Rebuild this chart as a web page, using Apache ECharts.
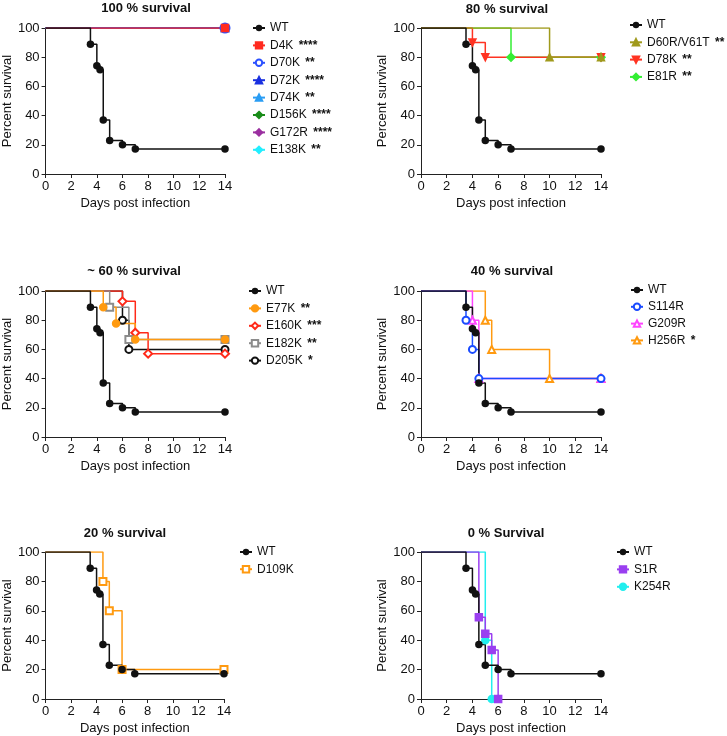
<!DOCTYPE html>
<html>
<head>
<meta charset="utf-8">
<script src="https://cdn.jsdelivr.net/npm/echarts@6/dist/echarts.min.js"></script>
<style>
  html, body { margin: 0; padding: 0; background: #fff; }
  #chart { width: 727px; height: 736px; }
</style>
</head>
<body>
<div id="chart"></div>
<script>
// Kaplan-Meier steps, [day, percent survival]
const WT = [[0, 100], [3.5, 88.9], [4, 74.1], [4.25, 71.4], [4.5, 37.0], [5, 22.9], [6, 20.0], [7, 17.1], [14, 17.1]]

// 100 % survival
const D4K = [[0, 100], [14, 100]]
const D70K = [[0, 100], [14, 100]]
const D72K = [[0, 100], [14, 100]]
const D74K = [[0, 100], [14, 100]]
const D156K = [[0, 100], [14, 100]]
const G172R = [[0, 100], [14, 100]]
const E138K = [[0, 100], [14, 100]]

// 80 % survival
const D60R_V61T = [[0, 100], [10, 80], [14, 80]]
const D78K = [[0, 100], [4, 90], [5, 80], [14, 80]]
const E81R = [[0, 100], [7, 80], [14, 80]]

// ~60 % survival
const E77K = [[0, 100], [4.5, 88.9], [5.5, 77.8], [7, 66.7], [14, 66.7]]
const E160K = [[0, 100], [6, 92.9], [7, 71.4], [8, 57.1], [14, 57.1]]
const E182K = [[0, 100], [5, 88.9], [6.5, 66.7], [14, 66.7]]
const D205K = [[0, 100], [6, 80], [6.5, 60], [14, 60]]

// 40 % survival
const S114R = [[0, 100], [3.5, 80], [4, 60], [4.5, 40], [14, 40]]
const G209R = [[0, 100], [4, 80], [4.5, 40], [14, 40]]
const H256R = [[0, 100], [5, 80], [5.5, 60], [10, 40], [14, 40]]

// 20 % survival
const D109K = [[0, 100], [4.5, 80], [5, 60], [6, 20], [14, 20]]

// 0 % survival
const S1R = [[0, 100], [4.5, 55.6], [5, 44.4], [5.5, 33.3], [6, 0]]
const K254R = [[0, 100], [5, 40], [5.5, 0]]

const panelTitles = ['100 % survival', '80 % survival', '~ 60 % survival', '40 % survival', '20 % survival', '0 % Survival']

// 每个子图：绘图区、标题中心、图例位置
const panels = [
  { grid: [45, 28, 180, 146], title: [146, 2], legend: [252, 21, 17.4] },
  { grid: [421, 28, 180, 146], title: [507, 3], legend: [629, 18, 17.3] },
  { grid: [45, 291, 180, 146], title: [134, 265], legend: [248, 284, 17.4] },
  { grid: [421, 291, 180, 146], title: [512, 265], legend: [630, 283, 16.8] },
  { grid: [43, 552, 181, 147], title: [125, 527], legend: [239, 545, 17.2] },
  { grid: [421, 552, 180, 147], title: [506, 527], legend: [616, 545, 17.4] },
]

// 图例顺序（绘制顺序另见下方 series，后画的在上层）
const legendNames = [
  ['WT', 'D4K ****', 'D70K **', 'D72K ****', 'D74K **', 'D156K ****', 'G172R ****', 'E138K **'],
  ['WT', 'D60R/V61T **', 'D78K **', 'E81R **'],
  ['WT', 'E77K **', 'E160K ***', 'E182K **', 'D205K *'],
  ['WT', 'S114R', 'G209R', 'H256R *'],
  ['WT', 'D109K'],
  ['WT', 'S1R', 'K254R'],
]

const FONT = 'Liberation Sans, Arial, sans-serif'
const TEXT = '#111'

function km(panel, name, data, color, symbol, extra) {
  return Object.assign({
    name,
    type: 'line',
    step: 'end',
    xAxisIndex: panel,
    yAxisIndex: panel,
    showAllSymbol: true,
    symbol,
    symbolSize: 7,
    data: data.map((p, i) => (i === 0 ? { value: p, symbol: 'none' } : p)),
    lineStyle: { color, width: 1.5 },
    itemStyle: { color, borderColor: color, borderWidth: 1.5 },
    emphasis: { disabled: true },
  }, extra || {})
}

const wt = i => km(i, 'WT', WT, '#111', 'circle', { symbolSize: 7.5, itemStyle: { color: '#111' } })

const series = [
  // panel 0
  km(0, 'E138K **', E138K, '#22eeff', 'diamond'),
  km(0, 'G172R ****', G172R, '#9b30a0', 'diamond'),
  km(0, 'D156K ****', D156K, '#1a8c1a', 'diamond'),
  km(0, 'D74K **', D74K, '#2a9df4', 'triangle'),
  km(0, 'D72K ****', D72K, '#1a30e0', 'triangle'),
  km(0, 'D70K **', D70K, '#2b50ff', 'emptyCircle', { symbolSize: 9 }),
  km(0, 'D4K ****', D4K, '#ff2a1f', 'rect', { symbolSize: 7 }),
  wt(0),
  // panel 1
  km(1, 'E81R **', E81R, '#33ee33', 'diamond', { symbolSize: 8 }),
  km(1, 'D78K **', D78K, '#ff3322', 'triangle', { symbolRotate: 180 }),
  km(1, 'D60R/V61T **', D60R_V61T, '#a09a1c', 'triangle'),
  wt(1),
  // panel 2
  km(2, 'D205K *', D205K, '#111', 'emptyCircle'),
  km(2, 'E160K ***', E160K, '#ff2a1a', 'emptyDiamond', { symbolSize: 8 }),
  km(2, 'E182K **', E182K, '#8c8c8c', 'emptyRect'),
  km(2, 'E77K **', E77K, '#ff9a10', 'circle'),
  wt(2),
  // panel 3
  km(3, 'H256R *', H256R, '#ff9a10', 'emptyTriangle'),
  km(3, 'G209R', G209R, '#ff44ff', 'emptyTriangle'),
  km(3, 'S114R', S114R, '#1a4bff', 'emptyCircle'),
  wt(3),
  // panel 4
  km(4, 'D109K', D109K, '#ff9a10', 'emptyRect'),
  wt(4),
  // panel 5
  km(5, 'K254R', K254R, '#22eeee', 'circle'),
  km(5, 'S1R', S1R, '#9a3ff0', 'rect'),
  wt(5),
]

const chart = echarts.init(document.getElementById('chart'), null, { renderer: 'canvas' })

const axisCommon = {
  axisLine: { lineStyle: { color: '#222', width: 1 } },
  axisTick: { show: true, length: 4, lineStyle: { color: '#222', width: 1 } },
  axisLabel: { color: TEXT, fontSize: 13, fontFamily: FONT, margin: 6 },
  splitLine: { show: false },
  nameTextStyle: { color: TEXT, fontSize: 13, fontFamily: FONT },
}

// 显著性星号单独加粗
const legendFormatter = name => {
  const k = name.indexOf(' ')
  if (k < 0) return '{n|' + name + '}'
  return '{n|' + name.slice(0, k) + '} {s|' + name.slice(k + 1) + '}'
}

chart.setOption({
  animation: false,
  backgroundColor: '#fff',
  title: panels.map((p, i) => ({
    text: panelTitles[i],
    left: p.title[0],
    top: p.title[1],
    textAlign: 'center',
    padding: 0,
    textStyle: { fontSize: 13, fontWeight: 'bold', color: TEXT, fontFamily: FONT },
  })),
  grid: panels.map(p => ({
    left: p.grid[0],
    top: p.grid[1],
    width: p.grid[2],
    height: p.grid[3],
    containLabel: false,
  })),
  xAxis: panels.map((p, i) => Object.assign({}, axisCommon, {
    type: 'value',
    gridIndex: i,
    min: 0,
    max: 14,
    interval: 2,
    name: 'Days post infection',
    nameLocation: 'middle',
    nameGap: 23,
  })),
  yAxis: panels.map((p, i) => Object.assign({}, axisCommon, {
    type: 'value',
    gridIndex: i,
    min: 0,
    max: 100,
    interval: 20,
    name: 'Percent survival',
    nameLocation: 'middle',
    nameGap: 28,
  })),
  legend: panels.map((p, i) => ({
    data: legendNames[i],
    orient: 'vertical',
    left: p.legend[0],
    top: p.legend[1],
    padding: 0,
    itemWidth: 12,
    itemHeight: 8,
    itemGap: p.legend[2] - 14,
    selectedMode: false,
    formatter: legendFormatter,
    textStyle: {
      color: TEXT,
      fontSize: 12,
      fontFamily: FONT,
      rich: {
        n: { color: TEXT, fontSize: 12, fontFamily: FONT, height: 14, lineHeight: 14 },
        s: { color: TEXT, fontSize: 12, fontWeight: 'bold', fontFamily: FONT, height: 14, lineHeight: 14, padding: [0, 0, 0, 2] },
      },
    },
  })),
  series,
})
</script>
</body>
</html>
